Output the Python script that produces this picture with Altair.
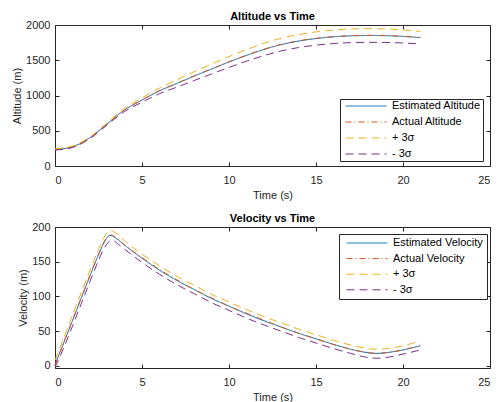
import altair as alt
import pandas as pd

FONT = "Liberation Sans"
AX = "#262626"

# ---------------- data ----------------
alt_t = [0, 1, 2, 3, 4, 5, 6, 7, 8, 9, 10, 11, 12, 13, 14, 15, 16, 17, 18, 19, 20, 21]
alt_est = [235, 272, 400, 598, 795, 935, 1065, 1170, 1275, 1375, 1475, 1568, 1652, 1722, 1772, 1808, 1832, 1846, 1851, 1848, 1838, 1821]
alt_act = [236, 274, 403, 600, 797, 937, 1068, 1174, 1279, 1378, 1478, 1571, 1655, 1725, 1775, 1811, 1835, 1849, 1854, 1851, 1841, 1824]
alt_up = [245, 282, 412, 613, 817, 965, 1105, 1222, 1337, 1445, 1552, 1650, 1739, 1812, 1864, 1902, 1928, 1944, 1949, 1944, 1930, 1908]
alt_lo = [225, 262, 388, 583, 773, 905, 1025, 1118, 1213, 1305, 1398, 1486, 1565, 1632, 1680, 1714, 1737, 1750, 1754, 1752, 1745, 1731]

vel_t = [0, 0.5, 1, 1.5, 2, 2.5, 2.75, 3, 3.15, 3.3, 3.6, 4, 5, 6, 7, 8, 9, 10, 11, 12, 13, 14, 15, 16, 17, 18, 18.5, 19, 20, 21]
vel_est = [2, 33, 65, 97, 129, 160, 174, 185, 188, 187, 182, 174, 155, 138, 123, 110, 97, 86, 75, 65, 56, 47, 39, 31, 24, 19, 18, 19, 23, 29]
vel_act = [1, 34, 66, 98, 130, 161, 175, 186, 189, 188, 183, 174, 156, 139, 124, 110, 98, 86, 76, 66, 56, 47, 39, 31, 24, 19, 18, 19, 23, 30]
vel_up = [8, 40, 73, 105, 137, 168, 182, 192, 195, 194, 189, 180, 161, 144, 129, 116, 103, 92, 81, 71, 62, 53, 45, 37, 30, 25, 24, 25, 29, 36]
vel_lo = [-2, 26, 57, 89, 121, 152, 166, 176, 180, 181, 176, 168, 149, 132, 117, 104, 91, 80, 69, 59, 50, 41, 33, 25, 18, 12, 11, 12, 17, 23]

alt_names = ["Estimated Altitude", "Actual Altitude", "+ 3σ", "- 3σ"]
vel_names = ["Estimated Velocity", "Actual Velocity", "+ 3σ", "- 3σ"]

x_ticks = [0, 5, 10, 15, 20, 25]
alt_ticks = [0, 500, 1000, 1500, 2000]
vel_ticks = [0, 50, 100, 150, 200]

COLORS = ["#0072BD", "#D95319", "#EDB120", "#7E2F8E"]
DASHES = [[1, 0], [6, 3, 1, 3], [8, 5], [8, 5]]


def long_df(t, series, names):
    rows = []
    for k, (name, vals) in enumerate(zip(names, series)):
        for ti, v in zip(t, vals):
            rows.append({"t": ti, "v": v, "s": name, "o": k})
    return pd.DataFrame(rows)


def panel(df, names, ytitle, title, ydomain, yticks, lx, ly, lpad, lrow):
    xs = alt.Scale(domain=[0, 25], nice=False, zero=False)
    ys = alt.Scale(domain=ydomain, nice=False, zero=False)
    leg = alt.Legend(
        orient="none", legendX=lx, legendY=ly, title=None,
        symbolType="stroke", symbolSize=1681, symbolStrokeWidth=1,
        symbolOffset=3, clipHeight=10,
        labelFont=FONT, labelFontSize=11, labelColor="black", labelOffset=5,
        fillColor="white", strokeColor=AX, padding=lpad, rowPadding=lrow,
    )
    tick_in = {"expr": "-4"}
    common = dict(grid=False, tickSize=tick_in, domain=False, tickColor=AX,
                  labelColor=AX, titleColor=AX, labelFont=FONT, titleFont=FONT,
                  labelFontSize=11, titleFontSize=11, titleFontWeight="normal")
    lines = alt.Chart(df).mark_line(strokeWidth=1, interpolate="monotone").encode(
        x=alt.X("t:Q", scale=xs, axis=alt.Axis(
            values=x_ticks, title="Time (s)", labelPadding=12, titlePadding=4,
            format="d", **common)),
        y=alt.Y("v:Q", scale=ys, axis=alt.Axis(
            values=yticks, title=ytitle, labelPadding=9, titlePadding=3,
            format="d", **common)),
        color=alt.Color("s:N", scale=alt.Scale(domain=names, range=COLORS), legend=leg),
        strokeDash=alt.StrokeDash("s:N", scale=alt.Scale(domain=names, range=DASHES), legend=leg),
        order=alt.Order("o:Q"),
    )
    frame = alt.Chart(df).mark_line(opacity=0).encode(
        x=alt.X("t:Q", scale=xs, axis=alt.Axis(
            orient="top", values=x_ticks, labels=False, title=None, grid=False,
            tickSize=tick_in, domain=False, tickColor=AX, minExtent=0, maxExtent=0,
            labelPadding=0)),
        y=alt.Y("v:Q", scale=ys, axis=alt.Axis(
            orient="right", values=yticks, labels=False, title=None, grid=False,
            tickSize=tick_in, domain=False, tickColor=AX, minExtent=0, maxExtent=0,
            labelPadding=0)),
    )
    return alt.layer(lines, frame).resolve_axis(x="independent", y="independent").properties(
        width=435, height=141,
        title=alt.TitleParams(title, font=FONT, fontSize=11, fontWeight="bold",
                              color="black", anchor="middle", offset=-3),
    )


df_alt = long_df(alt_t, [alt_est, alt_act, alt_up, alt_lo], alt_names)
df_vel = long_df(vel_t, [vel_est, vel_act, vel_up, vel_lo], vel_names)

top = panel(df_alt, alt_names, "Altitude (m)", "Altitude vs Time", [0, 2000], alt_ticks, 285, 74, 2, 5)
bottom = panel(df_vel, vel_names, "Velocity (m)", "Velocity vs Time", [-3, 200], vel_ticks, 284, 7, 4, 4.6)

chart = alt.vconcat(top, bottom, spacing=11).resolve_scale(
    color="independent", strokeDash="independent"
).resolve_legend(color="independent", strokeDash="independent").configure_view(
    stroke=AX, strokeWidth=1
).properties(padding={"left": 3, "top": 2, "right": 0, "bottom": 0}, background="white")

chart.save("out.html", embed_options={"renderer": "svg", "actions": False})
